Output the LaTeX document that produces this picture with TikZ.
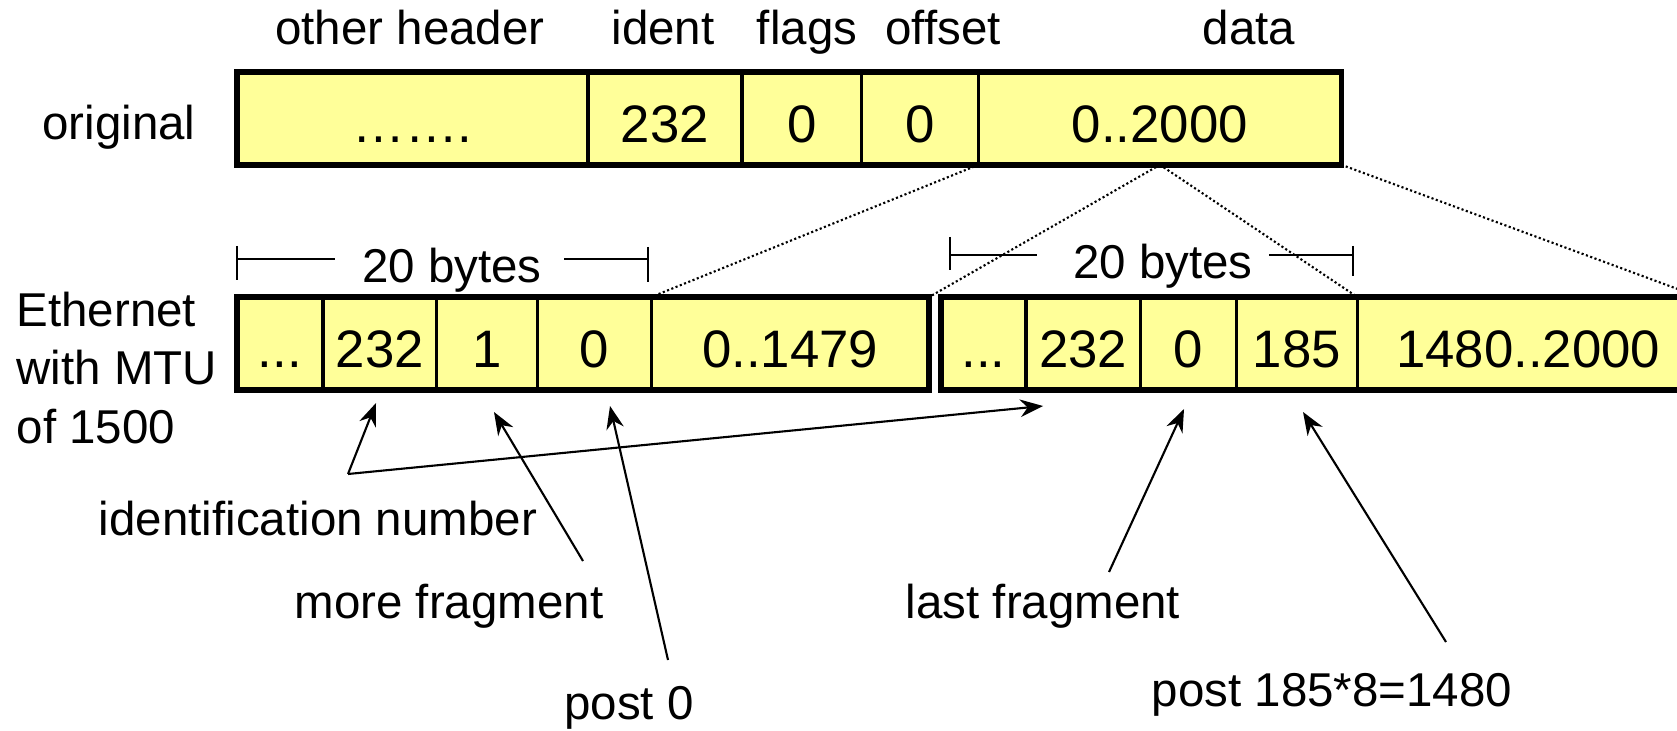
\documentclass[tikz,border=0pt]{standalone}
\usepackage{fontspec}
\setmainfont{Liberation Sans}
\usetikzlibrary{positioning,arrows.meta}
\definecolor{pktyellow}{RGB}{255,255,153}
\begin{document}
\begin{tikzpicture}[x=0.01cm, y=-0.01cm,
    lbl/.style={inner sep=0pt, font=\fontsize{13.5}{16.2}\selectfont},
    fld/.style={draw, line width=0.5pt, fill=pktyellow, inner sep=0pt,
                minimum height=0.91cm, text height=13.5pt, text depth=0pt,
                font=\fontsize{15}{18}\selectfont},
    frame/.style={line width=1.6pt},
    ptr/.style={line width=0.6pt, -{Stealth[length=6.5pt, width=5pt]}},
    dots/.style={line width=0.6pt, dash pattern=on 0.6pt off 0.7pt},
    dim/.style={line width=0.6pt}]
    \useasboundingbox (0,0) rectangle (1677,731);

    % field names
    \node[lbl, anchor=base] (hother) at (410,45) {other header};
    \node[lbl, anchor=base] (hident) at (663,45) {ident};
    \node[lbl, anchor=base] (hflags) at (807,45) {flags};
    \node[lbl, anchor=base] (hoffset) at (943,45) {offset};
    \node[lbl, anchor=base] (hdata) at (1249,45) {data};
    \node[lbl, anchor=base] (lorig) at (119,140) {original};

    % original datagram
    \node[fld, minimum width=3.49cm, anchor=north west] (o1) at (237,72) {…….};
    \node[fld, minimum width=1.52cm, right=0pt of o1] (o2) {232};
    \node[fld, minimum width=1.18cm, right=0pt of o2] (o3) {0};
    \node[fld, minimum width=1.15cm, right=0pt of o3] (o4) {0};
    \node[fld, minimum width=3.61cm, right=0pt of o4] (o5) {0..2000};
    \draw[frame] (o1.north west) rectangle (o5.south east);

    % first fragment
    \node[fld, minimum width=0.84cm, anchor=north west] (a1) at (237,297) {...};
    \node[fld, minimum width=1.12cm, right=0pt of a1] (a2) {232};
    \node[fld, minimum width=0.99cm, right=0pt of a2] (a3) {1};
    \node[fld, minimum width=1.12cm, right=0pt of a3] (a4) {0};
    \node[fld, minimum width=2.76cm, right=0pt of a4] (a5) {0..1479};
    \draw[frame] (a1.north west) rectangle (a5.south east);

    % second fragment
    \node[fld, minimum width=0.83cm, anchor=north west] (b1) at (941,297) {...};
    \node[fld, minimum width=1.13cm, right=0pt of b1] (b2) {232};
    \node[fld, minimum width=0.94cm, right=0pt of b2] (b3) {0};
    \node[fld, minimum width=1.19cm, right=0pt of b3] (b4) {185};
    \node[fld, minimum width=3.40cm, right=0pt of b4] (b5) {1480..2000};
    \draw[frame] (b1.north west) rectangle (b5.south east);

    % data split
    \draw[dots] (o5.south west) -- (a5.north west);
    \draw[dots] (o5.south) -- (a5.north east);
    \draw[dots] (o5.south) -- (b5.north west);
    \draw[dots] (o5.south east) -- (b5.north east);

    % header length
    \draw[dim] (237,246) -- (237,280) (237,259) -- (335,259);
    \draw[dim] (564,259) -- (648,259) (648,247) -- (648,282);
    \node[lbl, anchor=base] (bytesA) at (452,283) {20 bytes};
    \draw[dim] (950,237) -- (950,270) (950,255) -- (1037,255);
    \draw[dim] (1269,255) -- (1353,255) (1353,246) -- (1353,276);
    \node[lbl, anchor=base] (bytesB) at (1163,279) {20 bytes};

    \node[lbl, anchor=base west] (eth1) at (16,327) {Ethernet};
    \node[lbl, anchor=base west] (eth2) at (16,385) {with MTU};
    \node[lbl, anchor=base west] (eth3) at (16,443) {of 1500};

    % explanations
    \node[lbl, anchor=base] (lident) at (318,535) {identification number};
    \node[lbl, anchor=base] (lmore) at (449,618) {more fragment};
    \node[lbl, anchor=base] (lpost0) at (629,719) {post 0};
    \node[lbl, anchor=base] (llast) at (1043,618) {last fragment};
    \node[lbl, anchor=base] (lpost1) at (1332,706) {post 185*8=1480};

    \coordinate (idv) at (348,474);
    \coordinate (idA) at (376,403);
    \coordinate (idB) at (1043,406);
    \coordinate (mfs) at (583,561);
    \coordinate (mft) at (494,412);
    \coordinate (p0s) at (668,660);
    \coordinate (p0t) at (610,406);
    \coordinate (lfs) at (1109,572);
    \coordinate (lft) at (1184,409);
    \coordinate (p1s) at (1446,642);
    \coordinate (p1t) at (1303,412);

    \draw[ptr] (idv) -- (idA);
    \draw[ptr] (idv) -- (idB);
    \draw[ptr] (mfs) -- (mft);
    \draw[ptr] (p0s) -- (p0t);
    \draw[ptr] (lfs) -- (lft);
    \draw[ptr] (p1s) -- (p1t);
\end{tikzpicture}
\end{document}
